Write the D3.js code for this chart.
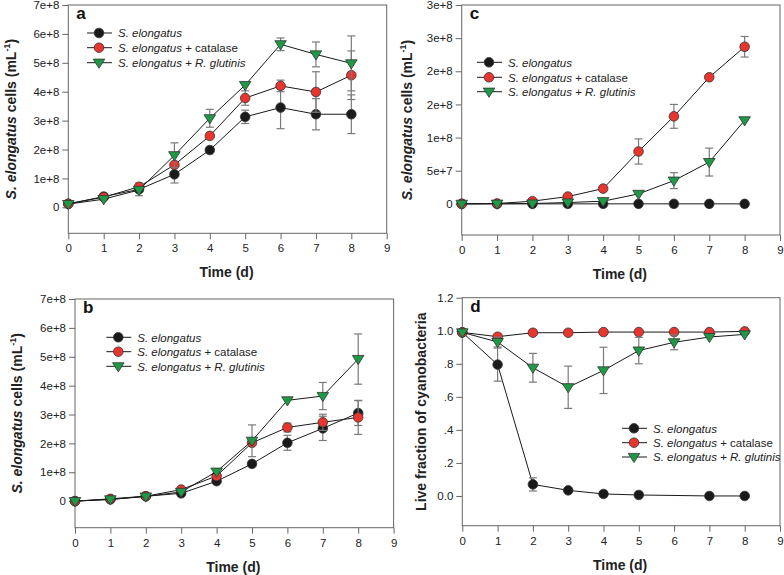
<!DOCTYPE html>
<html>
<head>
<meta charset="utf-8">
<script src="https://cdn.jsdelivr.net/npm/d3@7"></script>
<style>
  html, body { margin: 0; padding: 0; background: #fff; }
  svg { display: block; font-family: Arial, "Liberation Sans", sans-serif; }
</style>
</head>
<body>
<svg id="chart" width="784" height="575"></svg>
<script>
// ---------- data ----------
const days = [0, 1, 2, 3, 4, 5, 6, 7, 8];
const xTickLabels = ["0", "1", "2", "3", "4", "5", "6", "7", "8", "9"];
const seriesNames = ["S. elongatus", "S. elongatus + catalase", "S. elongatus + R. glutinis"];

// panel a
const aElong    = [0.12e8, 0.37e8, 0.62e8, 1.14e8, 1.98e8, 3.13e8, 3.45e8, 3.22e8, 3.22e8];
const aElongErr = [0.01e8, 0.02e8, 0.22e8, 0.30e8, 0.05e8, 0.23e8, 0.73e8, 0.54e8, 0.67e8];
const aCat      = [0.12e8, 0.35e8, 0.71e8, 1.47e8, 2.47e8, 3.78e8, 4.20e8, 3.99e8, 4.57e8];
const aCatErr   = [0.01e8, 0.02e8, 0.05e8, 0.10e8, 0.10e8, 0.25e8, 0.20e8, 0.70e8, 0.84e8];
const aGlut     = [0.11e8, 0.28e8, 0.60e8, 1.80e8, 3.08e8, 4.23e8, 5.64e8, 5.29e8, 4.98e8];
const aGlutErr  = [0.01e8, 0.02e8, 0.05e8, 0.43e8, 0.31e8, 0.10e8, 0.22e8, 0.43e8, 0.95e8];
const aYTicks   = [0, 1e8, 2e8, 3e8, 4e8, 5e8, 6e8, 7e8];
const aYLabels  = ["0", "1e+8", "2e+8", "3e+8", "4e+8", "5e+8", "6e+8", "7e+8"];

// panel b
const bElong    = [0, 0.06e8, 0.17e8, 0.27e8, 0.69e8, 1.29e8, 2.02e8, 2.52e8, 3.05e8];
const bElongErr = [0, 0.01e8, 0.02e8, 0.03e8, 0.05e8, 0.05e8, 0.26e8, 0.42e8, 0.43e8];
const bCat      = [0, 0.08e8, 0.17e8, 0.40e8, 0.87e8, 2.02e8, 2.55e8, 2.73e8, 2.90e8];
const bCatErr   = [0, 0.01e8, 0.02e8, 0.03e8, 0.05e8, 0.10e8, 0.15e8, 0.28e8, 0.59e8];
const bGlut     = [0, 0.06e8, 0.16e8, 0.32e8, 1.02e8, 2.09e8, 3.49e8, 3.64e8, 4.92e8];
const bGlutErr  = [0, 0.01e8, 0.02e8, 0.03e8, 0.05e8, 0.55e8, 0.05e8, 0.47e8, 0.87e8];

// panel c
const cElong    = [0, 0, 0, 0, 0, 0, 0, 0, 0];
const cElongErr = [0, 0, 0, 0, 0, 0, 0, 0, 0];
const cCat      = [0, 0.05e7, 0.4e7, 1.1e7, 2.3e7, 7.9e7, 13.2e7, 19.1e7, 23.7e7];
const cCatErr   = [0, 0, 0.1e7, 0.2e7, 0.3e7, 1.9e7, 1.8e7, 0.3e7, 1.55e7];
const cGlut     = [0, 0.02e7, 0.05e7, 0.2e7, 0.4e7, 1.5e7, 3.5e7, 6.3e7, 12.6e7];
const cGlutErr  = [0, 0, 0, 0, 0.1e7, 0.2e7, 1.2e7, 2.1e7, 0.3e7];
const cYTicks   = [0, 5e7, 1e8, 1.5e8, 2e8, 2.5e8, 3e8];
const cYLabels  = ["0", "5e+7", "1e+8", "2e+8", "2e+8", "3e+8", "3e+8"];

// panel d
const dElong    = [0.99, 0.795, 0.07, 0.034, 0.012, 0.006, null, 0.0, 0.0];
const dElongErr = [0, 0.10, 0.04, 0.01, 0, 0, null, 0, 0];
const dCat      = [0.99, 0.964, 0.988, 0.988, 0.992, 0.992, 0.992, 0.992, 0.996];
const dCatErr   = [0, 0, 0, 0, 0, 0, 0, 0, 0.005];
const dGlut     = [0.99, 0.932, 0.776, 0.658, 0.76, 0.88, 0.93, 0.962, 0.978];
const dGlutErr  = [0.01, 0.03, 0.087, 0.128, 0.14, 0.08, 0.045, 0.01, 0.01];
const dYTicks   = [0, 0.2, 0.4, 0.6, 0.8, 1.0, 1.2];
const dYLabels  = ["0.0", ".2", ".4", ".6", ".8", "1.0", "1.2"];

// ---------- drawing ----------
const svg = d3.select("#chart");
const COLORS = ["#1a1a1a", "#e8352e", "#1e9a47"];
const SHAPES = ["circle", "circle", "triangle"];
const FRAME = "#666";
const TEXT = "#222";

function marker(g, shape, color, cx, cy) {
  if (shape === "circle") {
    g.append("circle").attr("cx", cx).attr("cy", cy).attr("r", 4.8)
      .attr("fill", color).attr("stroke", "#333").attr("stroke-width", 0.8);
  } else {
    const w = 5.8, h1 = 3.6, h2 = 5.6;
    g.append("path")
      .attr("d", `M${cx - w},${cy - h1}L${cx + w},${cy - h1}L${cx},${cy + h2}Z`)
      .attr("fill", color).attr("stroke", "#333").attr("stroke-width", 0.8);
  }
}

function yTitle(g, x, y, kind) {
  const t = g.append("text").attr("transform", `translate(${x},${y}) rotate(-90)`)
    .attr("text-anchor", "middle").attr("font-weight", "bold").attr("font-size", 14)
    .attr("fill", TEXT);
  if (kind === "cells") {
    t.append("tspan").attr("font-style", "italic").text("S. elongatus");
    t.append("tspan").text(" cells (mL");
    t.append("tspan").attr("font-size", 9).attr("dy", -6).text("-1");
    t.append("tspan").attr("dy", 6).text(")");
  } else {
    t.text("Live fraction of cyanobacteria");
  }
}

function legendItem(g, x, y, i) {
  g.append("line").attr("x1", x - 12).attr("x2", x + 13).attr("y1", y).attr("y2", y)
    .attr("stroke", "#1a1a1a").attr("stroke-width", 1);
  marker(g, SHAPES[i], COLORS[i], x, y);
  const t = g.append("text").attr("x", x + 19).attr("y", y + 4.2)
    .attr("font-size", 11.5).attr("fill", TEXT);
  t.append("tspan").attr("font-style", "italic").text("S. elongatus");
  if (i === 1) t.append("tspan").text(" + catalase");
  if (i === 2) {
    t.append("tspan").text(" + ");
    t.append("tspan").attr("font-style", "italic").text("R. glutinis");
  }
}

function panel(cfg) {
  const g = svg.append("g");
  const x = d3.scaleLinear().domain([0, 9]).range([cfg.x0, cfg.x1]);
  const y = d3.scaleLinear().domain(cfg.yDomain).range([cfg.yB, cfg.yT]);

  // axes
  const xAxis = d3.axisBottom(x).tickValues(d3.range(0, 10))
    .tickFormat((d, i) => xTickLabels[i]).tickSize(6).tickSizeOuter(0).tickPadding(5);
  const gx = g.append("g").attr("transform", `translate(0,${cfg.yB})`).call(xAxis);
  const yAxis = d3.axisLeft(y).tickValues(cfg.yTicks)
    .tickFormat((d, i) => cfg.yLabels[i]).tickSize(6).tickSizeOuter(0).tickPadding(3);
  const gy = g.append("g").attr("transform", `translate(${cfg.x0},0)`).call(yAxis);
  [gx, gy].forEach(a => {
    a.select(".domain").remove();
    a.selectAll(".tick line").attr("stroke", FRAME);
    a.selectAll(".tick text").attr("fill", TEXT).attr("font-size", 11.5)
      .attr("font-family", 'Arial, "Liberation Sans", sans-serif');
  });
  g.append("rect").attr("x", cfg.x0).attr("y", cfg.yT)
    .attr("width", cfg.x1 - cfg.x0).attr("height", cfg.yB - cfg.yT)
    .attr("fill", "none").attr("stroke", FRAME).attr("stroke-width", 1);

  // series
  cfg.series.forEach((s, i) => {
    const pts = days.map((d, k) => ({ d, v: s.v[k], e: s.e[k] })).filter(p => p.v !== null);
    const line = d3.line().x(p => x(p.d)).y(p => y(p.v));
    g.append("path").attr("d", line(pts)).attr("fill", "none")
      .attr("stroke", "#1a1a1a").attr("stroke-width", 1);
    pts.forEach(p => {
      if (p.e && Math.abs(y(p.v + p.e) - y(p.v)) > 4) {
        const cx = x(p.d), yt = y(p.v + p.e), yb = y(p.v - p.e);
        g.append("line").attr("x1", cx).attr("x2", cx).attr("y1", yt).attr("y2", yb)
          .attr("stroke", "#7a7a7a").attr("stroke-width", 1.2);
        [yt, yb].forEach(yy => g.append("line").attr("x1", cx - 4).attr("x2", cx + 4)
          .attr("y1", yy).attr("y2", yy).attr("stroke", "#7a7a7a").attr("stroke-width", 1.2));
      }
    });
    pts.forEach(p => marker(g, SHAPES[i], COLORS[i], x(p.d), y(p.v)));
  });

  // labels
  g.append("text").attr("x", cfg.x0 + 8).attr("y", cfg.yT + 14)
    .attr("font-weight", "bold").attr("font-size", 17).attr("fill", "#111").text(cfg.label);
  g.append("text").attr("x", (cfg.x0 + cfg.x1) / 2 - 1).attr("y", cfg.yB + 44)
    .attr("text-anchor", "middle").attr("font-weight", "bold").attr("font-size", 14)
    .attr("fill", TEXT).text("Time (d)");
  yTitle(g, cfg.titleX, (cfg.yT + cfg.yB) / 2, cfg.titleKind);
  cfg.legendY.forEach((ly, i) => legendItem(g, cfg.legendX, ly, i));
}

panel({
  label: "a", x0: 68.3, x1: 386.7, yT: 5, yB: 233.3, yDomain: [-0.9e8, 7e8],
  yTicks: aYTicks, yLabels: aYLabels, titleX: 16, titleKind: "cells",
  legendX: 99, legendY: [33, 47.7, 62.7],
  series: [{ v: aElong, e: aElongErr }, { v: aCat, e: aCatErr }, { v: aGlut, e: aGlutErr }]
});
panel({
  label: "c", x0: 461.7, x1: 780, yT: 5, yB: 235, yDomain: [-0.47e8, 3e8],
  yTicks: cYTicks, yLabels: cYLabels, titleX: 412, titleKind: "cells",
  legendX: 489, legendY: [62.3, 77.3, 91.7],
  series: [{ v: cElong, e: cElongErr }, { v: cCat, e: cCatErr }, { v: cGlut, e: cGlutErr }]
});
panel({
  label: "b", x0: 75, x1: 393.6, yT: 299, yB: 527.7, yDomain: [-0.92e8, 7e8],
  yTicks: aYTicks, yLabels: aYLabels, titleX: 22, titleKind: "cells",
  legendX: 118.3, legendY: [337.3, 351.7, 366.3],
  series: [{ v: bElong, e: bElongErr }, { v: bCat, e: bCatErr }, { v: bGlut, e: bGlutErr }]
});
panel({
  label: "d", x0: 462.3, x1: 780, yT: 297.7, yB: 525.7, yDomain: [-0.18, 1.2],
  yTicks: dYTicks, yLabels: dYLabels, titleX: 426, titleKind: "live",
  legendX: 634, legendY: [428.3, 442.7, 457],
  series: [{ v: dElong, e: dElongErr }, { v: dCat, e: dCatErr }, { v: dGlut, e: dGlutErr }]
});
</script>
</body>
</html>
